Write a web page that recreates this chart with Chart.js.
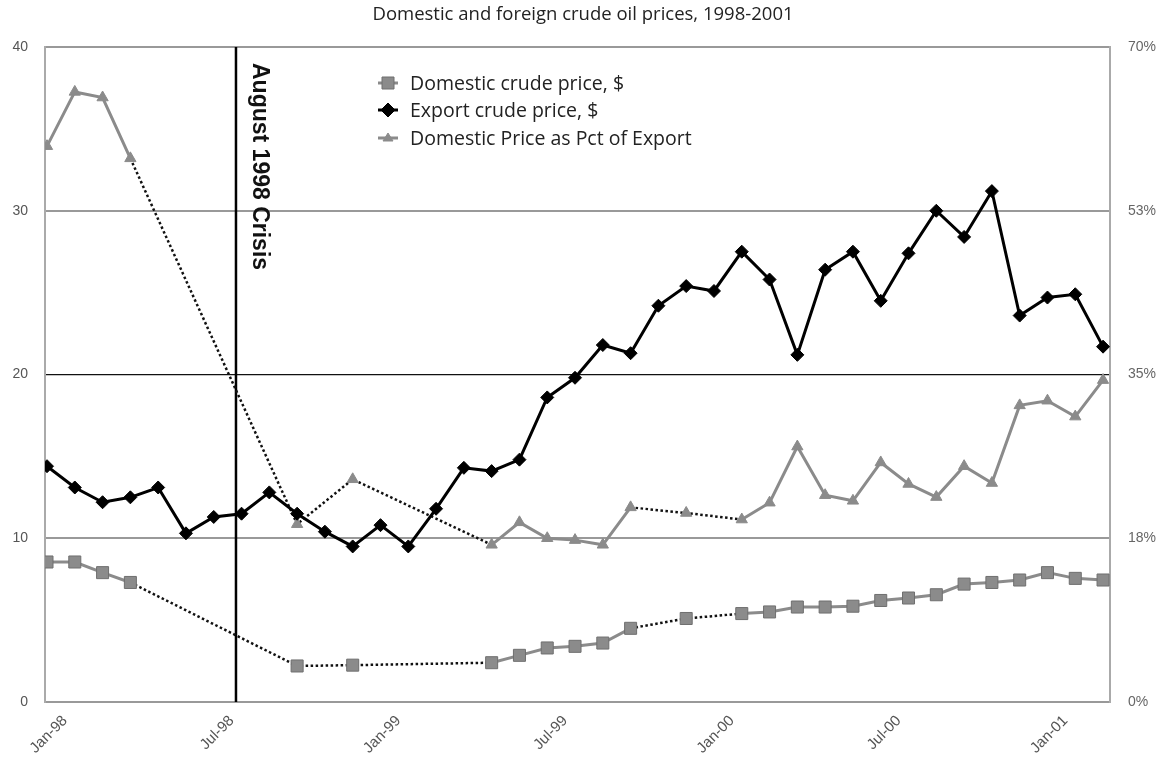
<!DOCTYPE html>
<html>
<head>
<meta charset="utf-8">
<script src="https://cdn.jsdelivr.net/npm/chart.js@4.4.1/dist/chart.umd.min.js"></script>
<style>
html,body{margin:0;padding:0;background:#fff;}
#wrap{width:1165px;height:757px;}
</style>
</head>
<body>
<div id="wrap"><canvas id="chart" width="1165" height="757"></canvas></div>
<script>
// months, Jan-98 .. Mar-01
var months = ['Jan-98','Feb-98','Mar-98','Apr-98','May-98','Jun-98','Jul-98','Aug-98','Sep-98','Oct-98','Nov-98','Dec-98',
  'Jan-99','Feb-99','Mar-99','Apr-99','May-99','Jun-99','Jul-99','Aug-99','Sep-99','Oct-99','Nov-99','Dec-99',
  'Jan-00','Feb-00','Mar-00','Apr-00','May-00','Jun-00','Jul-00','Aug-00','Sep-00','Oct-00','Nov-00','Dec-00',
  'Jan-01','Feb-01','Mar-01'];

var domesticPrice = [8.55, 8.55, 7.9, 7.3, null, null, null, null, null, 2.2, null, 2.25,
  null, null, null, null, 2.4, 2.85, 3.3, 3.4, 3.6, 4.5, null, 5.1,
  null, 5.4, 5.5, 5.8, 5.8, 5.85, 6.2, 6.35, 6.55, 7.2, 7.3, 7.45,
  7.9, 7.55, 7.45];

var exportPrice = [14.4, 13.1, 12.2, 12.5, 13.1, 10.3, 11.3, 11.5, 12.8, 11.5, 10.4, 9.5,
  10.8, 9.5, 11.8, 14.3, 14.1, 14.8, 18.6, 19.8, 21.8, 21.3, 24.2, 25.4,
  25.1, 27.5, 25.8, 21.2, 26.4, 27.5, 24.5, 27.4, 30.0, 28.4, 31.2, 23.6,
  24.7, 24.9, 21.7];

var domesticPct = [59.4, 65.2, 64.6, 58.1, null, null, null, null, null, 19.0, null, 23.8,
  null, null, null, null, 16.8, 19.2, 17.5, 17.3, 16.8, 20.8, null, 20.2,
  null, 19.5, 21.3, 27.3, 22.1, 21.5, 25.6, 23.3, 21.9, 25.2, 23.4, 31.7,
  32.2, 30.5, 34.4];

var seriesNames = ['Domestic crude price, $', 'Export crude price, $', 'Domestic Price as Pct of Export'];
var priceTicks = [0, 10, 20, 30, 40];
var pctTicks = [0, 17.5, 35, 52.5, 70];
var monthTickEvery = 6;
var crisisAt = 6.8;   // early August 1998
var crisisText = 'August 1998 Crisis';
var titleText = 'Domestic and foreign crude oil prices, 1998-2001';

var grey = '#8b8b8b';
var greyEdge = '#6f6f6f';
var tickFont = '"Liberation Sans", Arial, sans-serif';

function pts(arr){ return arr.map(function(v,i){ return {x:i, y:v}; }); }
function inGap(c){ return c.p0.skip || c.p1.skip; }
var gapSegment = {
  borderColor: function(c){ return inGap(c) ? '#111' : undefined; },
  borderDash: function(c){ return inGap(c) ? [2.5,2.5] : undefined; },
  borderWidth: function(c){ return inGap(c) ? 2.5 : undefined; }
};

var datasets = [
  {label:seriesNames[0], data:pts(domesticPrice), yAxisID:'y', borderColor:grey, borderWidth:3, pointStyle:'rect',
    pointRadius:8.5, pointBackgroundColor:grey, pointBorderColor:greyEdge, pointBorderWidth:1, spanGaps:true, segment:gapSegment},
  {label:seriesNames[1], data:pts(exportPrice), yAxisID:'y', borderColor:'#000', borderWidth:3, pointStyle:'rectRot',
    pointRadius:6.5, pointBackgroundColor:'#000', pointBorderColor:'#000', pointBorderWidth:1},
  {label:seriesNames[2], data:pts(domesticPct), yAxisID:'y1', borderColor:grey, borderWidth:3, pointStyle:'triangle',
    pointRadius:6.5, pointBackgroundColor:grey, pointBorderColor:grey, pointBorderWidth:1, spanGaps:true, segment:gapSegment}
];

// title, crisis marker and legend
var decorations = {
  id:'decorations',
  beforeDatasetsDraw: function(chart){
    var ctx = chart.ctx, a = chart.chartArea;
    var x = chart.scales.x.getPixelForValue(crisisAt);
    ctx.save();
    ctx.strokeStyle = '#000'; ctx.lineWidth = 2.5;
    ctx.beginPath(); ctx.moveTo(x, a.top); ctx.lineTo(x, a.bottom); ctx.stroke();
    ctx.translate(x + 23, a.top + 16);
    ctx.rotate(Math.PI/2);
    ctx.fillStyle = '#111';
    ctx.font = 'bold 23px "Liberation Sans", Arial, sans-serif';
    ctx.textAlign = 'left'; ctx.textBaseline = 'middle';
    ctx.fillText(crisisText, 0, 0);
    ctx.restore();
  },
  afterDraw: function(chart){
    var ctx = chart.ctx;
    ctx.save();
    ctx.fillStyle = '#222';
    ctx.font = '18.5px "Open Sans", sans-serif';
    ctx.textAlign = 'center'; ctx.textBaseline = 'middle';
    ctx.fillText(titleText, 583, 15);

    var rowY = [83, 110, 138];
    var mx = 388;
    ctx.textAlign = 'left';
    ctx.font = '19.5px "Open Sans", sans-serif';
    datasets.forEach(function(ds, i){
      var y = rowY[i];
      ctx.strokeStyle = ds.borderColor; ctx.lineWidth = 3;
      ctx.beginPath(); ctx.moveTo(mx - 10, y); ctx.lineTo(mx + 10, y); ctx.stroke();
      ctx.fillStyle = ds.pointBackgroundColor; ctx.strokeStyle = ds.pointBorderColor; ctx.lineWidth = 1;
      ctx.beginPath();
      if (ds.pointStyle === 'rect') { ctx.rect(mx - 6, y - 6, 12, 12); }
      else if (ds.pointStyle === 'rectRot') { ctx.moveTo(mx - 7, y); ctx.lineTo(mx, y - 7); ctx.lineTo(mx + 7, y); ctx.lineTo(mx, y + 7); ctx.closePath(); }
      else { ctx.moveTo(mx, y - 5); ctx.lineTo(mx + 5, y + 3); ctx.lineTo(mx - 5, y + 3); ctx.closePath(); }
      ctx.fill(); ctx.stroke();
      ctx.fillStyle = '#222';
      ctx.fillText(ds.label, 410, y + 1);
    });
    ctx.restore();
  }
};

new Chart(document.getElementById('chart'), {
  type:'line',
  data:{datasets:datasets},
  plugins:[decorations],
  options:{
    responsive:false,
    animation:false,
    layout:{padding:{top:47, left:0, right:0, bottom:0}},
    plugins:{legend:{display:false}, title:{display:false}, tooltip:{enabled:false}},
    scales:{
      x:{
        type:'linear', min:-0.072, max:38.25,
        grid:{display:false}, border:{display:false},
        afterBuildTicks:function(s){
          s.ticks = months.map(function(m,i){ return {value:i}; }).filter(function(t){ return t.value % monthTickEvery === 0; });
        },
        afterFit:function(s){ s.height = 55; },
        ticks:{autoSkip:false, minRotation:45, maxRotation:45, labelOffset:18, padding:2, color:'#555',
          font:{family:tickFont, size:15},
          callback:function(v){ return months[v]; }}
      },
      y:{
        position:'left', min:0, max:40,
        afterBuildTicks:function(s){ s.ticks = priceTicks.map(function(v){ return {value:v}; }); },
        afterFit:function(s){ s.width = 45; },
        border:{display:true, color:'#aaa', width:2},
        grid:{drawTicks:false,
          color:function(c){ return c.tick.value === 20 ? '#111' : '#999'; },
          lineWidth:function(c){ return c.tick.value === 20 ? 1.3 : 2; }},
        ticks:{padding:17, color:'#555', font:{family:tickFont, size:14}}
      },
      y1:{
        position:'right', min:0, max:70,
        afterBuildTicks:function(s){ s.ticks = pctTicks.map(function(v){ return {value:v}; }); },
        afterFit:function(s){ s.width = 55; },
        border:{display:true, color:'#aaa', width:2},
        grid:{display:false, drawTicks:false},
        ticks:{padding:18, color:'#666', font:{family:tickFont, size:14},
          callback:function(v){ return Math.round(v) + '%'; }}
      }
    }
  }
});
</script>
</body>
</html>
